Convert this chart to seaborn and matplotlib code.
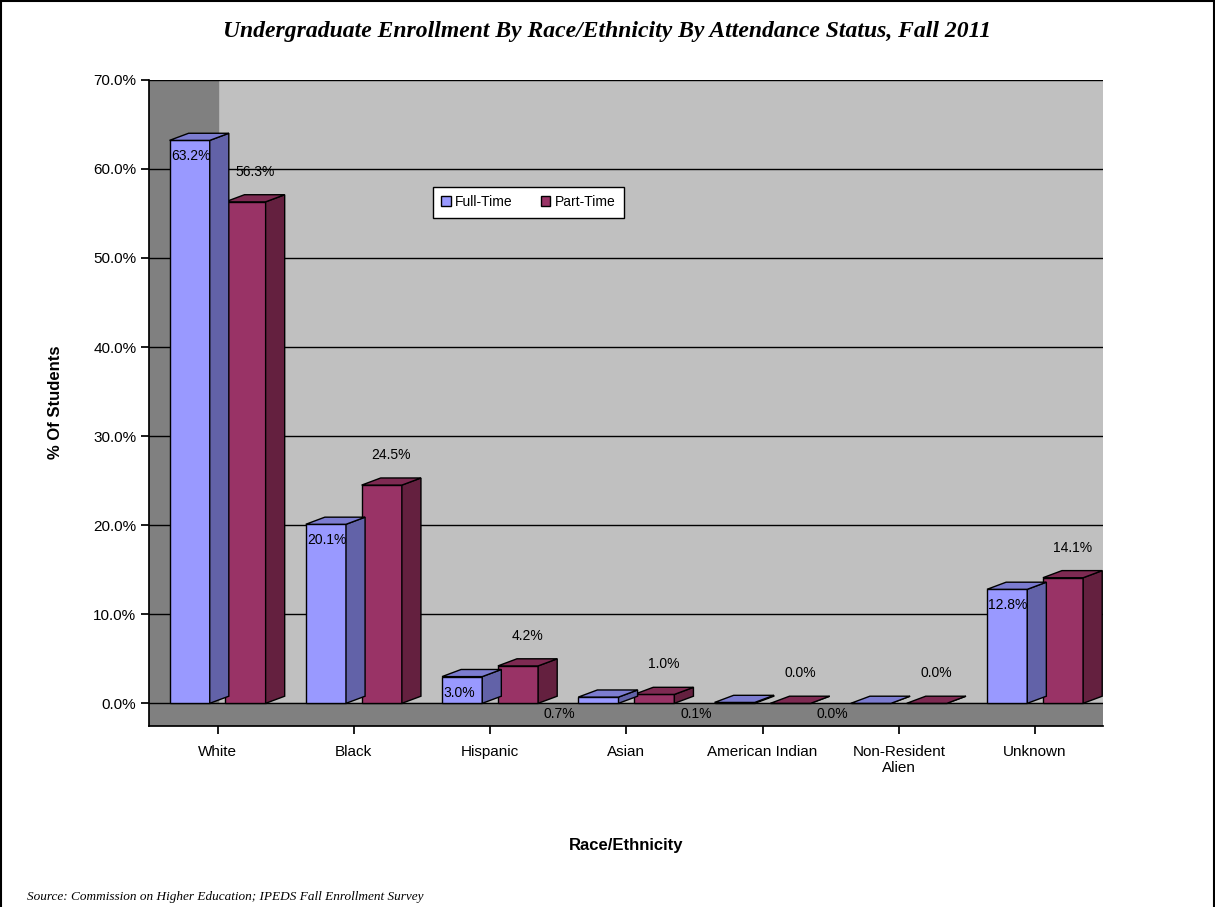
#!/usr/bin/env python3

import pandas as pd
import seaborn as sns
import matplotlib.pyplot as plt
from matplotlib.patches import Polygon, Rectangle
from matplotlib.ticker import FuncFormatter

sns.set_theme(style="white")
plt.rcParams['font.family'] = ['Liberation Sans', 'DejaVu Sans']
for key in ["text.color", "axes.labelcolor", "xtick.color", "ytick.color"]:
    plt.rcParams[key] = "black"

# Data
categories = ["White", "Black", "Hispanic", "Asian", "American Indian",
              "Non-Resident\nAlien", "Unknown"]
full_time = [63.2, 20.1, 3.0, 0.7, 0.1, 0.0, 12.8]
part_time = [56.3, 24.5, 4.2, 1.0, 0.0, 0.0, 14.1]

series = ["Full-Time", "Part-Time"]
front_colors = {"Full-Time": "#9999FF", "Part-Time": "#993366"}
side_colors = {"Full-Time": "#6262A8", "Part-Time": "#64203F"}
top_colors = {"Full-Time": "#7C7CD0", "Part-Time": "#7E2A52"}


def main():
    df = pd.DataFrame({
        "Race": categories * 2,
        "Status": ["Full-Time"] * len(categories) + ["Part-Time"] * len(categories),
        "Pct": full_time + part_time,
    })

    fig = plt.figure(figsize=(12.15, 9.07), dpi=100)
    ax = fig.add_axes([0.123, 0.20, 0.785, 0.712])
    ax.set_facecolor("#C0C0C0")

    # dark floor and left wall
    ax.axhspan(-2.5, 0, color="#808080", zorder=0)
    ax.axvspan(-0.5, 0.0, ymin=2.5 / 72.5, color="#808080", zorder=0)

    sns.barplot(data=df, x="Race", y="Pct", hue="Status", order=categories,
                hue_order=series, palette=front_colors, width=0.82, gap=0.28,
                saturation=1, edgecolor="black", linewidth=1, ax=ax, zorder=3)

    # fake 3D depth: side and top faces for each bar
    dx, dy = 0.14, 0.8
    for cont, name in zip(ax.containers, series):
        z = 4 if name == "Full-Time" else 3
        for rect, val in zip(cont, df.loc[df["Status"] == name, "Pct"]):
            rect.set_zorder(z)
            x0 = rect.get_x()
            w = rect.get_width()
            h = rect.get_height()
            side = Polygon([(x0 + w, 0), (x0 + w + dx, dy), (x0 + w + dx, h + dy), (x0 + w, h)],
                           closed=True, facecolor=side_colors[name], edgecolor="black",
                           linewidth=1, zorder=z)
            top = Polygon([(x0, h), (x0 + dx, h + dy), (x0 + w + dx, h + dy), (x0 + w, h)],
                          closed=True, facecolor=top_colors[name], edgecolor="black",
                          linewidth=1, zorder=z)
            ax.add_patch(side)
            ax.add_patch(top)

            if name == "Full-Time":
                if val >= 2:
                    ax.text(x0 + 0.01, max(h - 1.0, h * 0.65), f"{val:.1f}%", ha="left",
                            va="top", fontsize=10, zorder=6)
                else:
                    # small values: label sits on the floor, left of the bar
                    ax.text(x0 - 0.02, -1.25, f"{val:.1f}%", ha="right", va="center",
                            fontsize=10, zorder=6)
            else:
                ax.text(x0 + w / 2 + dx / 2, h + dy + 1.8, f"{val:.1f}%", ha="center",
                        va="bottom", fontsize=10, zorder=6)

    ax.set_ylim(-2.5, 70)
    ax.set_xlim(-0.5, 6.5)
    ax.set_yticks(range(0, 71, 10))
    ax.yaxis.set_major_formatter(FuncFormatter(lambda v, p: f"{v:.1f}%"))
    ax.grid(axis="y", color="black", linewidth=1, zorder=1)
    ax.set_axisbelow(True)
    ax.tick_params(axis="y", left=True, length=6, color="black", labelsize=11)
    ax.tick_params(axis="x", bottom=True, length=6, color="black", labelsize=11, pad=8)
    for s in ["top", "right"]:
        ax.spines[s].set_visible(False)
    ax.spines["left"].set_color("black")
    ax.spines["bottom"].set_color("black")

    ax.set_ylabel("% Of Students", fontsize=12, fontweight="bold", labelpad=22)
    ax.set_xlabel("Race/Ethnicity", fontsize=12, fontweight="bold", labelpad=45)

    leg = ax.legend(loc="upper left", bbox_to_anchor=(0.29, 0.845), ncol=2,
                    frameon=True, fontsize=10, handlelength=0.7, handleheight=0.7,
                    handletextpad=0.3, columnspacing=2.0, borderpad=0.6, fancybox=False)
    leg.get_frame().set_edgecolor("black")
    leg.get_frame().set_facecolor("white")
    leg.get_frame().set_alpha(1)
    leg.get_frame().set_linewidth(1)
    leg.set_title(None)

    fig.suptitle("Undergraduate Enrollment By Race/Ethnicity By Attendance Status, Fall 2011",
                 x=0.5, y=0.977, fontsize=17, fontstyle="italic", fontweight="bold",
                 family="Liberation Serif")
    fig.text(0.022, 0.008, "Source: Commission on Higher Education; IPEDS Fall Enrollment Survey",
             fontsize=9.5, fontstyle="italic", family="Liberation Serif")

    # border round the chart area
    fig.patches.append(Rectangle((0.001, -0.01), 0.998, 1.009, transform=fig.transFigure,
                                 fill=False, edgecolor="black", linewidth=1.5))

    fig.savefig("out.png", dpi=100)
    plt.close(fig)


if __name__ == "__main__":
    main()
